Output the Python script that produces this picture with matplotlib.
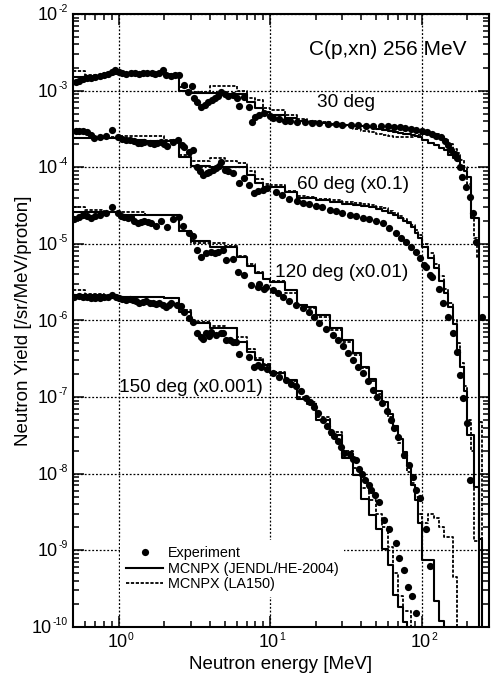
import numpy as np
import matplotlib
matplotlib.use("Agg")
import matplotlib.pyplot as plt
from matplotlib.ticker import LogLocator, NullFormatter

plt.rcParams['font.family'] = ['Liberation Sans', 'DejaVu Sans']

# ---------------- experiment (energy [MeV], yield) ----------------
e30 = [0.52, 0.55, 0.58, 0.62, 0.66, 0.70, 0.75, 0.80, 0.85, 0.90, 0.95, 1.00, 1.06, 1.12, 1.2, 1.28,
       1.36, 1.45, 1.55, 1.65, 1.75, 1.85, 1.95, 2.05, 2.2, 2.35, 2.5, 2.71, 2.85, 3.06, 3.16, 3.3,
       3.5, 3.7, 3.9, 4.1, 4.3, 4.5, 4.75, 5.0, 5.3, 5.65, 6.0, 6.25, 6.75, 7.3, 7.6, 8.0, 8.5, 9.1,
       9.9, 10.5, 11.5, 12.5, 13.5, 15, 17, 19, 21, 24, 27, 30, 34, 38, 43, 48, 54, 60, 66, 72, 78,
       85, 92, 100, 108, 116, 125, 134, 142, 150, 157, 165, 172, 178, 184, 195, 208, 218, 229, 248]
y30 = [1.3e-3, 1.35e-3, 1.4e-3, 1.45e-3, 1.45e-3, 1.5e-3, 1.55e-3, 1.6e-3, 1.65e-3, 1.75e-3, 1.85e-3,
       1.75e-3, 1.7e-3, 1.65e-3, 1.7e-3, 1.7e-3, 1.65e-3, 1.7e-3, 1.7e-3, 1.7e-3, 1.65e-3, 1.7e-3,
       1.85e-3, 1.6e-3, 1.55e-3, 1.6e-3, 1.6e-3, 1.2e-3, 9.6e-4, 1.15e-3, 8e-4, 7e-4, 6.1e-4, 6.5e-4,
       7e-4, 7.5e-4, 8e-4, 8.5e-4, 9.5e-4, 9e-4, 8.5e-4, 8.8e-4, 8e-4, 6.3e-4, 8.3e-4, 6.1e-4, 3.9e-4,
       4.5e-4, 4.8e-4, 5.1e-4, 4.6e-4, 4.4e-4, 4.2e-4, 4.05e-4, 4.0e-4, 3.9e-4, 3.85e-4, 3.8e-4,
       3.75e-4, 3.7e-4, 3.65e-4, 3.6e-4, 3.55e-4, 3.55e-4, 3.5e-4, 3.45e-4, 3.45e-4, 3.4e-4, 3.35e-4,
       3.3e-4, 3.25e-4, 3.15e-4, 3.05e-4, 3.0e-4, 2.85e-4, 2.7e-4, 2.55e-4, 2.45e-4, 2.2e-4, 1.95e-4,
       1.7e-4, 1.5e-4, 1.3e-4, 1.0e-4, 7.4e-5, 5.5e-5, 4.1e-5, 2.5e-5, 1.05e-5, 1.1e-6]

e60 = [0.52, 0.55, 0.58, 0.62, 0.66, 0.69, 0.75, 0.83, 0.91, 0.985, 1.06, 1.12, 1.18, 1.26, 1.34, 1.41,
       1.48, 1.6, 1.72, 1.8, 1.9, 2.0, 2.1, 2.27, 2.45, 2.6, 2.72, 2.9, 3.08, 3.29, 3.45, 3.6, 3.8,
       3.96, 4.2, 4.4, 4.6, 4.74, 5.0, 5.3, 5.65, 6.25, 6.75, 7.3, 7.85, 8.3, 8.9, 9.6, 10.9, 12,
       13.4, 15, 16.5, 18.1, 20, 22, 24.7, 27, 30, 33.4, 37, 41, 45.2, 50, 55.4, 61, 67.4, 73, 78.6,
       85, 91.5, 97.3, 103, 107.4, 114, 117.7, 129.2, 138.3, 149.5, 161.4, 170, 178.5, 187.4, 197.4, 208]
y60 = [3.0e-4, 3.0e-4, 2.95e-4, 2.9e-4, 2.6e-4, 2.4e-4, 2.5e-4, 2.55e-4, 3.1e-4, 2.45e-4, 2.35e-4,
       2.3e-4, 2.3e-4, 2.2e-4, 2.05e-4, 2.1e-4, 2.15e-4, 2.05e-4, 2.0e-4, 2.05e-4, 2.15e-4, 2.0e-4,
       1.9e-4, 2.15e-4, 2.25e-4, 1.95e-4, 1.85e-4, 1.6e-4, 1.7e-4, 1.0e-4, 9e-5, 8.0e-5, 8.3e-5, 8.7e-5,
       9.2e-5, 9.7e-5, 1.05e-4, 1.17e-4, 9.2e-5, 8.8e-5, 8.3e-5, 6.2e-5, 7.2e-5, 5.9e-5, 4.6e-5, 4.9e-5,
       5.0e-5, 5.3e-5, 4.8e-5, 4.3e-5, 3.8e-5, 3.6e-5, 3.45e-5, 3.3e-5, 3.15e-5, 3.0e-5, 2.8e-5,
       2.65e-5, 2.55e-5, 2.4e-5, 2.3e-5, 2.2e-5, 2.1e-5, 1.98e-5, 1.85e-5, 1.6e-5, 1.37e-5, 1.2e-5,
       1.07e-5, 9.2e-6, 7.9e-6, 6.5e-6, 5.3e-6, 5.0e-6, 3.9e-6, 3.7e-6, 2.6e-6, 1.7e-6, 1.1e-6, 6.8e-7,
       3.9e-7, 1.95e-7, 9.7e-8, 4.6e-8, 8.2e-9]

e120 = [0.51, 0.55, 0.58, 0.62, 0.66, 0.7, 0.75, 0.83, 0.91, 0.985, 1.04, 1.09, 1.15, 1.2, 1.27, 1.34,
        1.41, 1.48, 1.56, 1.64, 1.77, 1.9, 2.07, 2.27, 2.49, 2.67, 2.9, 3.08, 3.27, 3.5, 3.77, 4.07,
        4.3, 4.5, 4.86, 5.1, 5.65, 6.1, 6.75, 7.5, 8.27, 8.5, 9.1, 9.4, 10.4, 11.2, 12.1, 13.4, 14.8,
        16.4, 18.1, 19.5, 21.1, 23.4, 25.8, 28, 30.1, 32.5, 35, 38, 40.8, 44, 47.5, 51, 55, 59, 63, 66,
        69.5, 76, 82, 87.6, 92, 97, 107, 114]
y120 = [2.1e-5, 2.25e-5, 2.35e-5, 2.3e-5, 2.2e-5, 2.3e-5, 2.35e-5, 2.5e-5, 3.0e-5, 2.5e-5, 2.3e-5,
        2.25e-5, 2.2e-5, 2.25e-5, 2.0e-5, 1.85e-5, 1.95e-5, 2.0e-5, 1.9e-5, 1.85e-5, 1.7e-5, 2.0e-5,
        1.65e-5, 2.1e-5, 2.25e-5, 1.7e-5, 1.4e-5, 1.25e-5, 8.3e-6, 6.8e-6, 7.5e-6, 7.9e-6, 7.6e-6,
        7.9e-6, 8.3e-6, 6.1e-6, 6.4e-6, 4.3e-6, 3.9e-6, 2.9e-6, 2.75e-6, 3.0e-6, 2.6e-6, 2.75e-6,
        2.5e-6, 2.3e-6, 2.05e-6, 1.8e-6, 1.6e-6, 1.45e-6, 1.3e-6, 1.1e-6, 9.2e-7, 7.8e-7, 6.5e-7,
        5.5e-7, 4.6e-7, 3.8e-7, 3.05e-7, 2.5e-7, 2.05e-7, 1.6e-7, 1.24e-7, 1.0e-7, 8.3e-8, 6.5e-8,
        5.0e-8, 3.9e-8, 3.0e-8, 1.75e-8, 1.3e-8, 9e-9, 6.2e-9, 4.8e-9, 1.9e-9, 6.3e-10]

e150 = [0.51, 0.55, 0.58, 0.62, 0.66, 0.7, 0.75, 0.8, 0.85, 0.91, 0.96, 1.01, 1.06, 1.12, 1.18, 1.24,
        1.3, 1.37, 1.44, 1.52, 1.6, 1.68, 1.77, 1.86, 1.95, 2.06, 2.14, 2.22, 2.41, 2.58, 2.72, 2.93,
        3.08, 3.27, 3.5, 3.6, 3.77, 3.96, 4.07, 4.4, 4.74, 4.86, 5.1, 5.4, 5.65, 5.95, 6.25, 7.3, 7.86,
        8.3, 8.7, 9.6, 10.5, 11.5, 12.7, 13.7, 14.8, 16, 17.3, 18.4, 19.5, 20.8, 22.2, 23.6, 25.2,
        26.5, 28, 29.4, 30.9, 33.4, 35, 36.6, 38.8, 40.4, 42.5, 44.6, 46.3, 48.8, 52, 56.6, 61, 67.3,
        71, 76, 81, 86.8, 91]
y150 = [2.05e-6, 2.1e-6, 2.05e-6, 2.0e-6, 1.95e-6, 1.95e-6, 1.95e-6, 2.0e-6, 2.05e-6, 2.15e-6, 2.05e-6,
        1.95e-6, 1.9e-6, 1.85e-6, 1.9e-6, 1.85e-6, 1.8e-6, 1.7e-6, 1.75e-6, 1.8e-6, 1.7e-6, 1.7e-6,
        1.65e-6, 1.7e-6, 1.6e-6, 1.5e-6, 1.6e-6, 1.7e-6, 1.6e-6, 1.55e-6, 1.3e-6, 1.07e-6, 9.6e-7,
        6.8e-7, 6.1e-7, 5.8e-7, 6.8e-7, 6.2e-7, 7.1e-7, 6.5e-7, 6.8e-7, 6.8e-7, 5.6e-7, 5.6e-7, 5.3e-7,
        5.3e-7, 3.6e-7, 3.35e-7, 2.5e-7, 2.6e-7, 2.5e-7, 2.3e-7, 2.05e-7, 1.8e-7, 1.65e-7, 1.5e-7,
        1.4e-7, 1.2e-7, 9.6e-8, 8.5e-8, 7.5e-8, 6.2e-8, 5e-8, 4.2e-8, 3.5e-8, 3.1e-8, 2.7e-8, 2.2e-8,
        1.84e-8, 1.8e-8, 1.54e-8, 1.5e-8, 1.14e-8, 1.0e-8, 8.2e-9, 7.1e-9, 6.2e-9, 5.3e-9, 4.2e-9,
        2.5e-9, 1.9e-9, 1.26e-9, 7.9e-10, 5.6e-10, 3.3e-10, 2.5e-10, 1.5e-10]

# ---------------- MCNPX histograms (common bin edges) ----------------
edges = [0.5, 0.6, 0.8, 1, 1.5, 2, 2.5, 3, 4, 5, 6, 7, 8, 9, 10, 12.5, 15, 17.5, 20,
         25, 30, 35, 40, 45, 50, 55, 60, 65, 70, 75, 80, 85, 90, 95, 100,
         110, 120, 130, 140, 150, 160, 170, 180, 190, 200, 210, 220, 230, 240, 250, 260]

jendl30 = [1.5e-3, 1.55e-3, 1.65e-3, 1.65e-3, 1.65e-3, 1.6e-3, 1.0e-3,
           9.2e-4, 9.2e-4, 9.0e-4, 9.0e-4, 7.0e-4, 6.0e-4, 5.3e-4,
           4.8e-4, 4.4e-4, 4.0e-4, 3.9e-4,
           3.8e-4, 3.7e-4, 3.6e-4, 3.5e-4, 3.4e-4, 3.3e-4, 3.2e-4, 3.1e-4, 3.0e-4, 2.9e-4, 2.8e-4,
           2.75e-4, 2.7e-4, 2.6e-4, 2.55e-4, 2.5e-4,
           2.3e-4, 2.1e-4, 1.95e-4, 1.8e-4, 1.68e-4, 1.45e-4, 1.3e-4, 1.2e-4, 1.05e-4, 9e-5, 7.5e-5,
           2.2e-5, 2.2e-5, 2.2e-5, 0, 0]
la30 = [1.8e-3, 1.6e-3, 1.7e-3, 1.7e-3, 1.7e-3, 1.65e-3, 1.1e-3,
        9.7e-4, 1.15e-3, 1.15e-3, 1.0e-3, 8.0e-4, 7.5e-4, 6.0e-4,
        5.6e-4, 4.8e-4, 4.2e-4, 4.0e-4,
        3.85e-4, 3.6e-4, 3.4e-4, 3.2e-4, 3.0e-4, 2.85e-4, 2.75e-4, 2.65e-4, 2.55e-4, 2.5e-4, 2.45e-4,
        2.45e-4, 2.45e-4, 2.5e-4, 2.55e-4, 2.6e-4,
        2.7e-4, 2.75e-4, 2.7e-4, 2.5e-4, 2.3e-4, 2.0e-4, 1.75e-4, 1.55e-4, 1.25e-4, 1.0e-4, 6e-5,
        2.5e-5, 1.2e-5, 6.8e-6, 4.7e-8, 0]

jendl60 = [2.4e-4, 2.4e-4, 2.4e-4, 2.3e-4, 2.2e-4, 2.2e-4, 1.37e-4,
           1.05e-4, 1.02e-4, 1.0e-4, 1.0e-4, 8e-5, 6.2e-5, 5.6e-5,
           5.6e-5, 4.8e-5, 4.0e-5, 4.0e-5,
           3.7e-5, 3.5e-5, 3.3e-5, 3.2e-5, 3.1e-5, 3.0e-5, 2.85e-5, 2.7e-5, 2.5e-5, 2.35e-5, 2.2e-5,
           2.0e-5, 1.85e-5, 1.65e-5, 1.4e-5, 1.2e-5,
           9e-6, 6.5e-6, 4.8e-6, 3.3e-6, 2.3e-6, 1.5e-6, 9e-7, 4.1e-7, 2.5e-7, 1.2e-7, 3.2e-8,
           3.2e-8, 6.7e-9, 6.7e-9, 1.4e-9, 0]
la60 = [2.4e-4, 2.4e-4, 2.45e-4, 2.55e-4, 2.55e-4, 2.3e-4, 1.45e-4,
        1.2e-4, 1.3e-4, 1.2e-4, 1.15e-4, 9e-5, 7e-5, 6e-5,
        5.8e-5, 4.9e-5, 4.2e-5, 4.1e-5,
        3.9e-5, 3.7e-5, 3.5e-5, 3.4e-5, 3.3e-5, 3.2e-5, 3.05e-5, 2.9e-5, 2.7e-5, 2.5e-5, 2.3e-5,
        2.1e-5, 1.95e-5, 1.75e-5, 1.5e-5, 1.3e-5,
        1.0e-5, 7.5e-6, 5.5e-6, 3.8e-6, 2.6e-6, 1.7e-6, 1.0e-6, 5e-7, 2.8e-7, 1.4e-7, 5e-8,
        2e-8, 1.3e-9, 1.3e-9, 0, 0]

jendl120 = [2.6e-5, 2.6e-5, 2.6e-5, 2.35e-5, 2.35e-5, 2.35e-5, 1.45e-5,
            1.1e-5, 9.2e-6, 9.0e-6, 6.8e-6, 5.2e-6, 4.2e-6, 3.5e-6,
            3.2e-6, 2.5e-6, 1.6e-6, 1.5e-6,
            1.18e-6, 8e-7, 5.5e-7, 3.7e-7, 2.5e-7, 1.7e-7, 1.2e-7, 8.5e-8, 6e-8, 4.2e-8, 2.8e-8,
            1.9e-8, 1.3e-8, 7e-9, 4.5e-9, 2.3e-9,
            7.5e-10, 7.5e-10, 2.2e-10, 1.2e-10, 0, 0, 0, 0, 0, 0, 0, 0, 0, 0, 0, 0]
la120 = [3.05e-5, 2.8e-5, 2.6e-5, 2.6e-5, 2.35e-5, 2.35e-5, 1.45e-5,
         1.03e-5, 1.03e-5, 9.5e-6, 7e-6, 5.5e-6, 4.3e-6, 3.5e-6,
         3.3e-6, 2.3e-6, 1.6e-6, 1.45e-6,
         1.1e-6, 7.6e-7, 5.2e-7, 3.5e-7, 2.4e-7, 1.6e-7, 1.1e-7, 7.8e-8, 5.5e-8, 3.8e-8, 2.5e-8,
         1.6e-8, 1.05e-8, 7.5e-9, 5e-9, 3.0e-9,
         2.3e-9, 3.0e-9, 2.6e-9, 2.0e-9, 1.5e-9, 1.5e-9, 4.5e-10, 0, 0, 0, 0, 0, 0, 0, 0, 0]

jendl150 = [2.15e-6, 2.15e-6, 2.1e-6, 2.05e-6, 2.0e-6, 1.95e-6, 1.3e-6,
            9.2e-7, 8.0e-7, 7.9e-7, 5.3e-7, 3.9e-7, 3.05e-7, 2.6e-7,
            2.05e-7, 1.65e-7, 9.5e-8, 8e-8,
            5e-8, 3.2e-8, 1.6e-8, 9.6e-9, 4.6e-9, 2.9e-9, 1.9e-9, 1.05e-9, 6.4e-10, 2.6e-10, 1.8e-10,
            1.17e-10, 0, 0, 0, 0,
            0, 0, 0, 0, 0, 0, 0, 0, 0, 0, 0, 0, 0, 0, 0, 0]
la150 = [2.5e-6, 2.2e-6, 2.1e-6, 2.05e-6, 2.0e-6, 1.95e-6, 1.35e-6,
         9.5e-7, 8.5e-7, 8.0e-7, 6.0e-7, 4.2e-7, 3.2e-7, 2.7e-7,
         2.1e-7, 1.6e-7, 1.0e-7, 8.5e-8,
         5.5e-8, 3.5e-8, 2.0e-8, 1.2e-8, 6.5e-9, 4.5e-9, 3.0e-9, 2.0e-9, 1.1e-9, 5e-10, 2.5e-10,
         1.6e-10, 1.6e-10, 0, 0, 0,
         0, 0, 0, 0, 0, 0, 0, 0, 0, 0, 0, 0, 0, 0, 0, 0]

labels = ["30 deg", "60 deg (x0.1)", "120 deg (x0.01)", "150 deg (x0.001)"]
label_pos = [(20.5, 6.9e-4), (15.1, 5.9e-5), (10.7, 4.2e-6), (1.01, 1.35e-7)]

# decade exponents used for the tick labels
ydecades = [-10, -9, -8, -7, -6, -5, -4, -3, -2]
xdecades = [0, 1, 2]

exps = [(e30, y30), (e60, y60), (e120, y120), (e150, y150)]
jendl = [jendl30, jendl60, jendl120, jendl150]
la = [la30, la60, la120, la150]

fig = plt.figure(figsize=(4.91, 6.80), dpi=100)
ax = fig.add_axes([0.1487, 0.0782, 0.8473, 0.9012])
ax.set_xscale('log')
ax.set_yscale('log')

dash = (0, (1.8, 0.9))
edges_a = np.array(edges)
for i in range(4):
    vj = np.array(jendl[i], dtype=float)
    vl = np.array(la[i], dtype=float)
    vj = np.where(vj > 0, vj, 1e-30)
    vl = np.where(vl > 0, vl, 1e-30)
    ax.step(edges_a, np.append(vl, vl[-1]), where='post', color='k', lw=1.3,
            linestyle=dash, zorder=2, label='MCNPX (LA150)' if i == 0 else None)
    ax.step(edges_a, np.append(vj, vj[-1]), where='post', color='k', lw=1.5,
            zorder=2.5, label='MCNPX (JENDL/HE-2004)' if i == 0 else None)
    ax.plot(exps[i][0], exps[i][1], 'o', color='k', ms=5.2, mew=0, zorder=3,
            label='Experiment' if i == 0 else None)
    ax.text(label_pos[i][0], label_pos[i][1], labels[i], fontsize=13.7,
            ha='left', va='center')

ax.text(18.1, 3.4e-3, "C(p,xn) 256 MeV", fontsize=15, ha='left', va='center')

ax.set_xlim(0.5, 278)
ax.set_ylim(1e-10, 1e-2)
ax.yaxis.set_major_locator(LogLocator(base=10, numticks=20))
ax.yaxis.set_minor_locator(LogLocator(base=10, subs=np.arange(2, 10), numticks=100))
ax.yaxis.set_major_formatter(NullFormatter())
ax.yaxis.set_minor_formatter(NullFormatter())
ax.xaxis.set_major_locator(LogLocator(base=10, numticks=20))
ax.xaxis.set_minor_locator(LogLocator(base=10, subs=np.arange(2, 10), numticks=100))
ax.xaxis.set_major_formatter(NullFormatter())
ax.xaxis.set_minor_formatter(NullFormatter())
ax.tick_params(which='both', direction='in', top=True, right=True, width=1.1)
ax.tick_params(which='major', length=8)
ax.tick_params(which='minor', length=4)
for s in ax.spines.values():
    s.set_linewidth(1.5)

ax.grid(True, which='major', color='k', linestyle=(0, (1.5, 1.5)), lw=0.9)
ax.set_axisbelow(True)

# tick labels: "10" with a small exponent, as in the original
ty = ax.get_yaxis_transform()
tx = ax.get_xaxis_transform()
yexp = []
for k in ydecades:
    t = ax.annotate(str(k), xy=(0, 10.0 ** k), xycoords=ty, xytext=(-4, 3.5),
                    textcoords='offset points', ha='right', va='center',
                    fontsize=7.5, annotation_clip=False)
    yexp.append(t)
for k in xdecades:
    ax.annotate('10', xy=(10.0 ** k, 0), xycoords=tx, xytext=(6.5, -11.5),
                textcoords='offset points', ha='right', va='center',
                fontsize=13, annotation_clip=False)
    ax.annotate(str(k), xy=(10.0 ** k, 0), xycoords=tx, xytext=(6.7, -7.5),
                textcoords='offset points', ha='left', va='center',
                fontsize=7.5, annotation_clip=False)
fig.canvas.draw()
rend = fig.canvas.get_renderer()
for k, t in zip(ydecades, yexp):
    w = t.get_window_extent(rend).width * 72.0 / fig.dpi
    ax.annotate('10', xy=(0, 10.0 ** k), xycoords=ty, xytext=(-4.2 - w, -1.2),
                textcoords='offset points', ha='right', va='center',
                fontsize=13, annotation_clip=False)

ax.set_xlabel("Neutron energy [MeV]", fontsize=13.5)
ax.xaxis.set_label_coords(0.5, -0.047)
ax.set_ylabel("Neutron Yield [/sr/MeV/proton]", fontsize=13.5)
ax.yaxis.set_label_coords(-0.098, 0.5)

handles, labs = ax.get_legend_handles_labels()
order = [labs.index('Experiment'), labs.index('MCNPX (JENDL/HE-2004)'), labs.index('MCNPX (LA150)')]
leg = ax.legend([handles[k] for k in order], [labs[k] for k in order],
                loc='upper left', bbox_to_anchor=(0.113, 0.141), borderaxespad=0,
                fontsize=10.4, numpoints=1, handlelength=2.6, handletextpad=0.3,
                labelspacing=0.1, borderpad=0.4, frameon=True, fancybox=False)
leg.get_frame().set_facecolor('white')
leg.get_frame().set_edgecolor('none')
leg.get_frame().set_alpha(1)

fig.savefig("out.png", dpi=100)
